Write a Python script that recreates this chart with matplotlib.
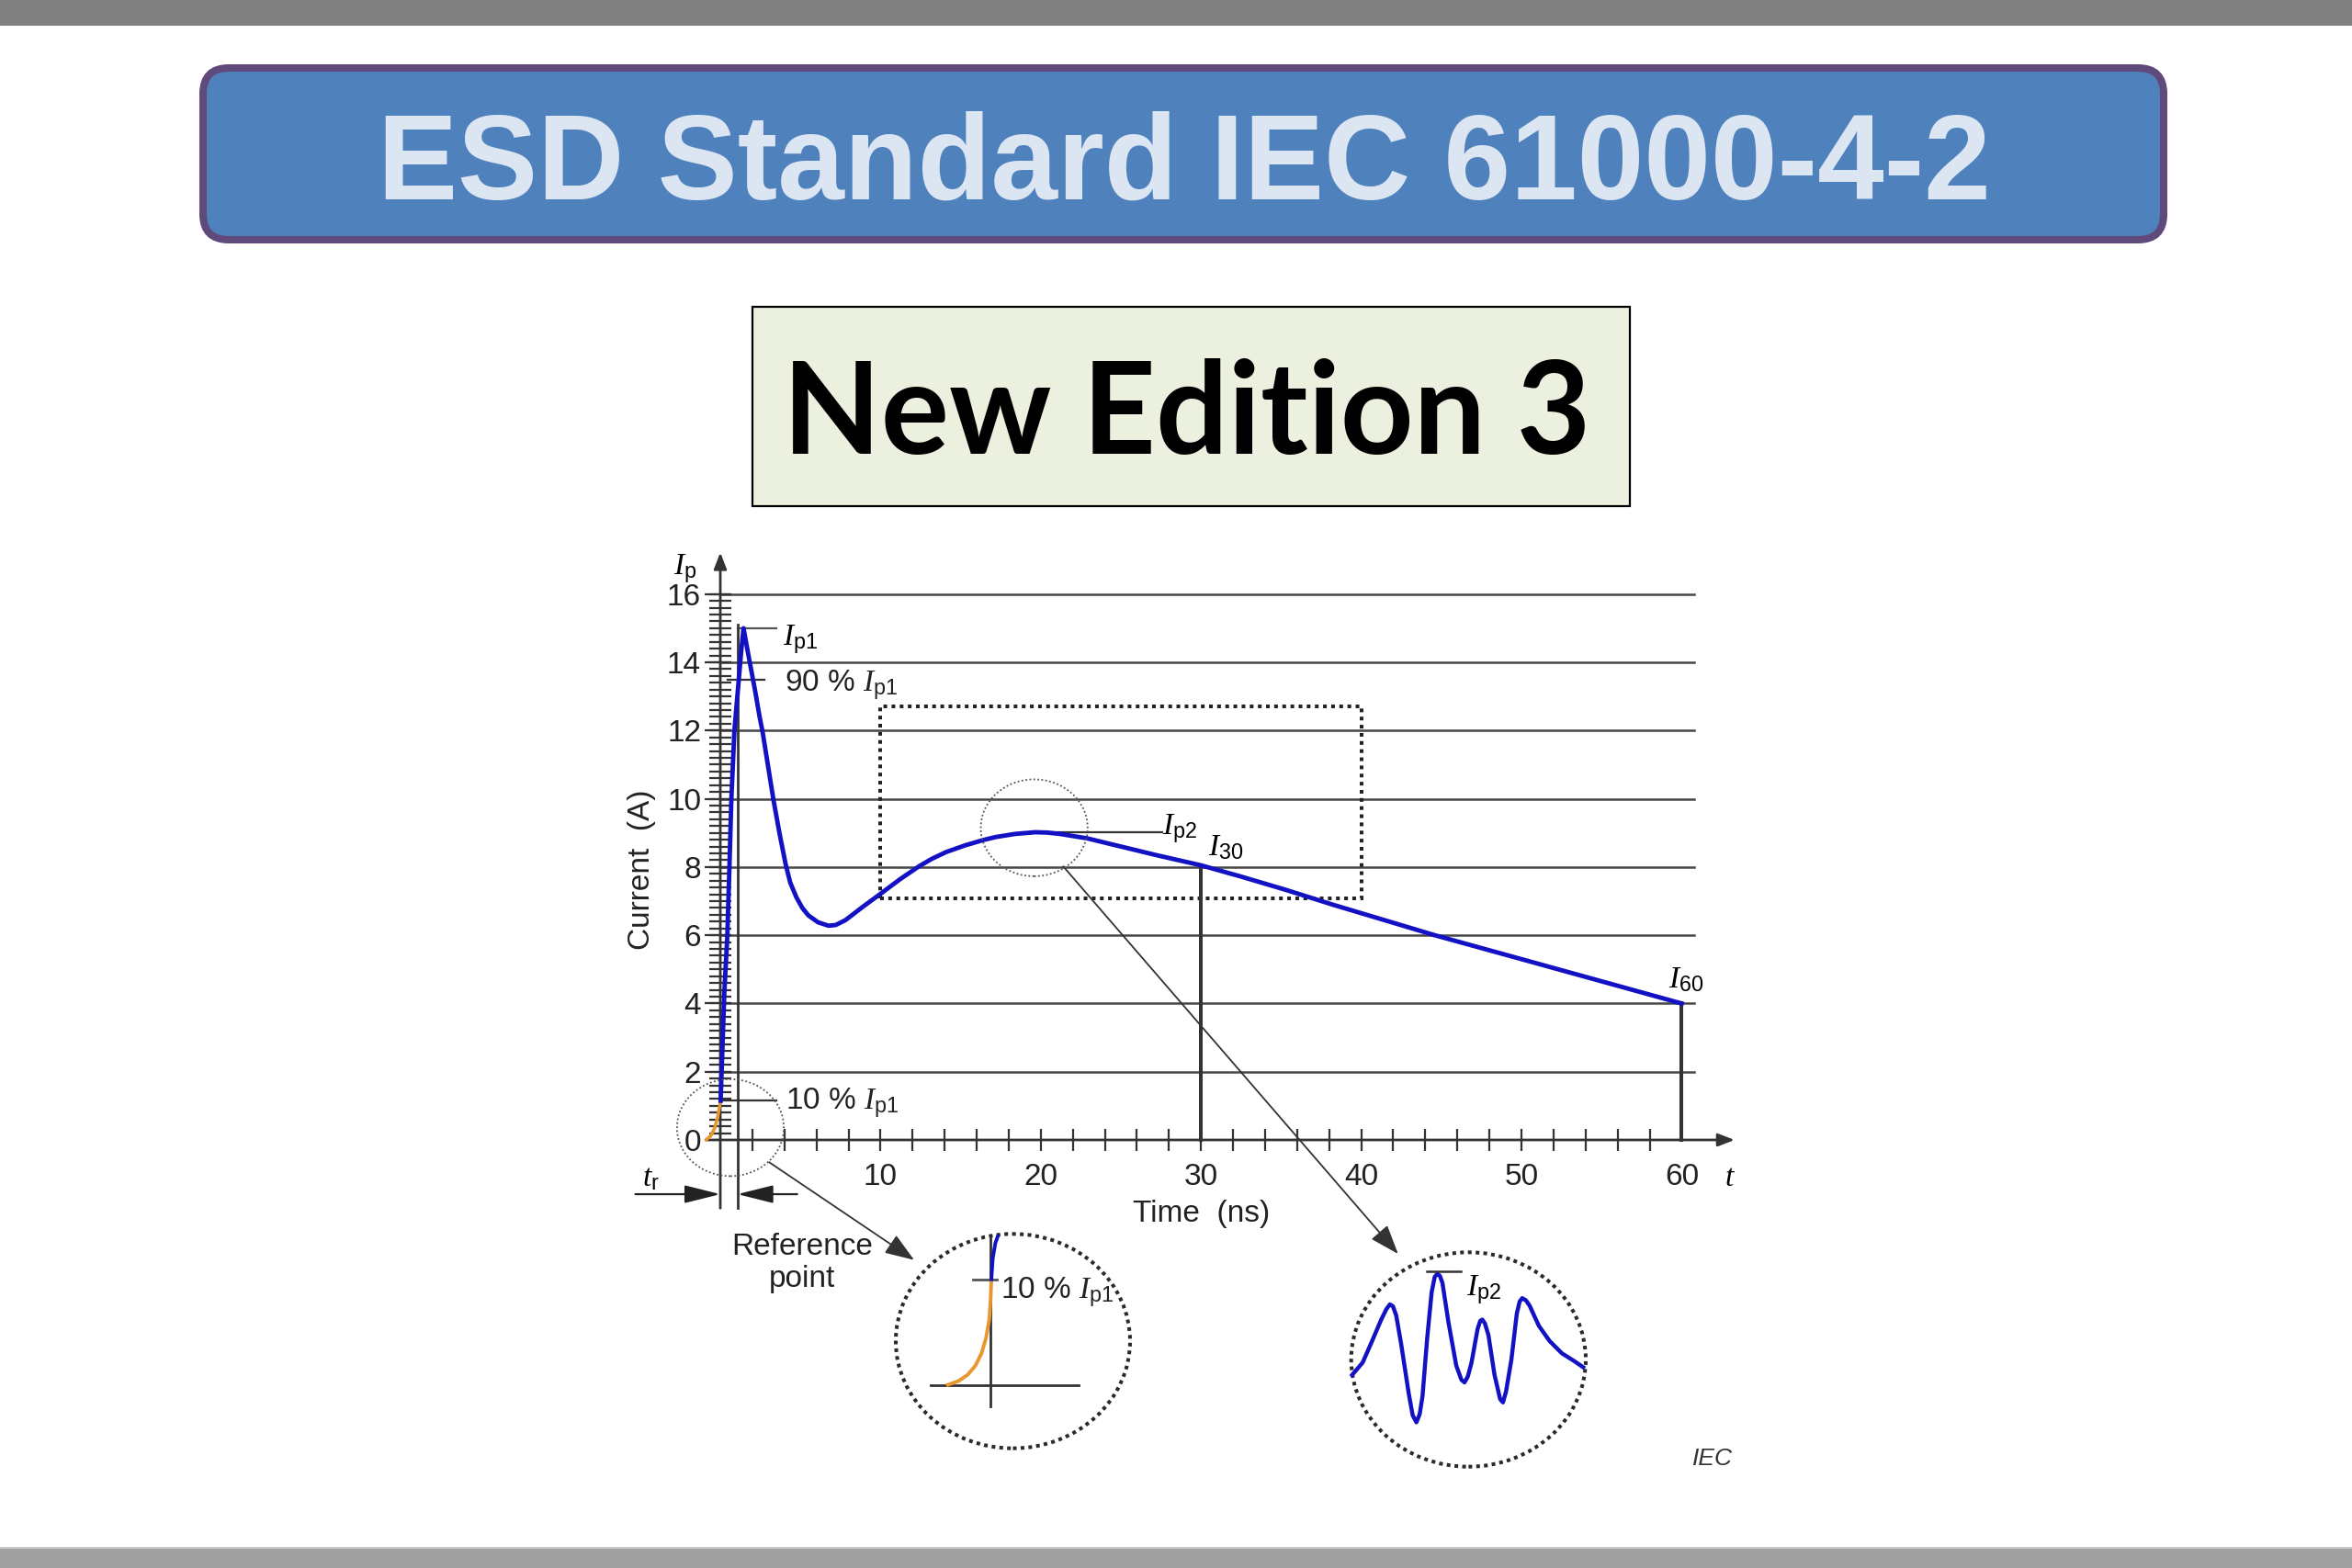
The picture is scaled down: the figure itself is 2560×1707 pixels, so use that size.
import numpy as np
import matplotlib.pyplot as plt
from matplotlib.patches import FancyBboxPatch, Rectangle, Ellipse

plt.rcParams['font.family'] = ['Liberation Sans', 'DejaVu Sans']
plt.rcParams['mathtext.fontset'] = 'custom'
plt.rcParams['mathtext.rm'] = 'Liberation Sans'
plt.rcParams['mathtext.it'] = 'Liberation Serif:italic'
plt.rcParams['mathtext.bf'] = 'Liberation Sans:bold'

# discharge current (ns, A)
t_ns = [0.02, 0.25, 0.44, 0.57, 0.69, 0.88, 1.10, 1.30, 1.45, 1.72, 2.16, 2.45,
        2.64, 3.31, 3.69, 4.07, 4.36, 4.74, 5.12, 5.50, 6.10, 6.75, 7.20, 7.80,
        8.94, 9.90, 11.24, 12.40, 13.20, 14.10, 15.25, 16.40, 17.20, 18.40, 19.65,
        20.40, 21.20, 22.90, 24.30, 25.80, 27.20, 28.60, 30.00, 32.50, 35.30, 38.20,
        41.40, 44.60, 50.00, 55.00, 60.00]
i_a = [1.15, 4.30, 6.00, 8.00, 10.00, 12.00, 13.20, 14.30, 15.00, 14.30, 13.20, 12.41,
       11.96, 9.99, 9.00, 8.10, 7.55, 7.12, 6.80, 6.58, 6.38, 6.28, 6.30, 6.44,
       6.85, 7.18, 7.65, 8.02, 8.24, 8.44, 8.63, 8.79, 8.88, 8.97, 9.02,
       9.01, 8.97, 8.84, 8.68, 8.51, 8.35, 8.20, 8.05, 7.72, 7.33, 6.90,
       6.45, 6.00, 5.30, 4.65, 4.00]
# foot of the rise, before the 10 % point (orange)
t_pre = [-0.90, -0.60, -0.35, -0.15, 0.02]
i_pre = [0.00, 0.12, 0.35, 0.70, 1.15]

ip1 = 15.0
ip1_90 = 13.5
ip1_10 = 1.15
ip2 = 9.02
t_ip2 = 19.65
i30 = 8.05
i60 = 4.0
t_r_end = 1.07

grid_levels = [2, 4, 6, 8, 10, 12, 14, 16]
y_labels = [0, 2, 4, 6, 8, 10, 12, 14, 16]
x_labels = [10, 20, 30, 40, 50, 60]
x_minor = list(range(2, 60, 2))

# zoom box around the second peak (ns, A)
box_t = [10, 40]
box_i = [7.07, 12.7]

# inset 1: rise detail, normalised inset units
rise_u_orange = [0.222, 0.268, 0.307, 0.340, 0.366, 0.385, 0.399, 0.405, 0.408]
rise_v_orange = [0.296, 0.314, 0.343, 0.386, 0.443, 0.514, 0.600, 0.700, 0.788]
rise_u_blue = [0.408, 0.414, 0.425, 0.435]
rise_v_blue = [0.788, 0.886, 0.957, 0.988]

# inset 2: ringing near Ip2, normalised inset units
ring_u = [0.004, 0.049, 0.089, 0.128, 0.150, 0.165, 0.178, 0.192, 0.213, 0.245, 0.262,
          0.278, 0.292, 0.304, 0.324, 0.343, 0.356, 0.367, 0.378, 0.389, 0.415, 0.448,
          0.470, 0.483, 0.497, 0.513, 0.539, 0.550, 0.559, 0.570, 0.585, 0.611, 0.635,
          0.647, 0.660, 0.683, 0.706, 0.718, 0.729, 0.745, 0.761, 0.800, 0.846, 0.898,
          0.950, 0.989]
ring_v = [0.428, 0.486, 0.586, 0.686, 0.735, 0.757, 0.748, 0.705, 0.572, 0.343, 0.240,
          0.207, 0.245, 0.329, 0.600, 0.814, 0.885, 0.900, 0.890, 0.857, 0.671, 0.471,
          0.405, 0.393, 0.420, 0.486, 0.643, 0.680, 0.686, 0.668, 0.614, 0.428, 0.315,
          0.300, 0.350, 0.500, 0.714, 0.770, 0.786, 0.776, 0.750, 0.657, 0.586, 0.529,
          0.493, 0.464]

BLUE = '#1212c4'
ORANGE = '#e8962e'
DARK = '#333333'
W, H = 2560, 1707

fig = plt.figure(figsize=(W / 100, H / 100), dpi=100)
fig.patch.set_facecolor('white')

# page furniture in pixel coordinates
ov = fig.add_axes([0, 0, 1, 1])
ov.set_xlim(0, W)
ov.set_ylim(H, 0)
ov.axis('off')
ov.add_patch(Rectangle((0, 0), W, 28, color='#808080', lw=0))
ov.add_patch(Rectangle((0, 1685), W, 22, color='#a0a0a0', lw=0))
ov.add_patch(Rectangle((0, 1684), W, 1.5, color='#c8c8c8', lw=0))
ov.add_patch(FancyBboxPatch((221, 74), 2134, 187,
                            boxstyle='round,pad=0,rounding_size=28',
                            facecolor='#4f81bd', edgecolor='#604a7b', lw=5.8))
ov.text(1289, 217, 'ESD Standard IEC 61000-4-2', ha='center', va='baseline',
        fontsize=94, fontweight='bold', color='#dce6f2')
ov.add_patch(Rectangle((819, 334), 955, 217, facecolor='#ebf1de',
                       edgecolor='black', lw=1.6))
ov.text(1292, 494, 'New Edition 3', ha='center', va='baseline',
        fontsize=100, fontweight='bold', color='black',
        family=['Lato', 'Liberation Sans', 'DejaVu Sans'])

# main waveform axes: 0 ns at x=784 px, 17.44 px/ns; 0 A at y=1241 px, 37.14 px/A
X0, SX, Y0, SY = 784, 17.44, 1241, 37.14
xlim = (-8, 66)
ylim = (-10.5, 18.5)
left = X0 + xlim[0] * SX
right = X0 + xlim[1] * SX
top = Y0 - ylim[1] * SY
bottom = Y0 - ylim[0] * SY
ax = fig.add_axes([left / W, 1 - bottom / H, (right - left) / W, (bottom - top) / H])
ax.set_xlim(*xlim)
ax.set_ylim(*ylim)
ax.axis('off')
ax.patch.set_alpha(0)

for g in grid_levels:
    ax.plot([0, 60.8], [g, g], color='#474747', lw=1.8, zorder=1)

# y-axis minor ticks
yt = np.arange(0.2, 16.01, 0.2)
ax.hlines(yt, -0.7, 0.7, color=DARK, lw=1.6, zorder=2)
ax.hlines(y_labels[1:], -1.0, 0.7, color=DARK, lw=1.6, zorder=2)
# x-axis ticks
ax.vlines(x_minor, -0.33, 0.33, color=DARK, lw=1.6, zorder=2)

# axes with arrows
ax.annotate('', xy=(0, 17.22), xytext=(0, -2.0),
            arrowprops=dict(arrowstyle='-|>,head_length=0.9,head_width=0.35',
                            mutation_scale=12, lw=2.0, color=DARK,
                            shrinkA=0, shrinkB=0), zorder=3)
ax.annotate('', xy=(63.3, 0), xytext=(-0.9, 0),
            arrowprops=dict(arrowstyle='-|>,head_length=0.9,head_width=0.35',
                            mutation_scale=12, lw=2.0, color=DARK,
                            shrinkA=0, shrinkB=0), zorder=3)
ax.plot([t_r_end, t_r_end], [-2.0, 15.1], color=DARK, lw=2.0, zorder=3)

# tr arrows
ax.annotate('', xy=(0, -1.59), xytext=(-5.3, -1.59),
            arrowprops=dict(arrowstyle='-|>,head_length=1.2,head_width=0.3',
                            mutation_scale=20, lw=1.6, color='#222222',
                            shrinkA=0, shrinkB=0))
ax.annotate('', xy=(t_r_end, -1.59), xytext=(4.8, -1.59),
            arrowprops=dict(arrowstyle='-|>,head_length=1.2,head_width=0.3',
                            mutation_scale=20, lw=1.6, color='#222222',
                            shrinkA=0, shrinkB=0))

# I30 / I60 verticals
ax.plot([30, 30], [0, i30], color=DARK, lw=2.9, zorder=3)
ax.plot([60, 60], [0, i60], color=DARK, lw=2.9, zorder=3)

# dotted zoom box
ax.add_patch(Rectangle((box_t[0], box_i[0]), box_t[1] - box_t[0], box_i[1] - box_i[0],
                       fill=False, edgecolor='#222222', lw=2.9,
                       linestyle=(0, (1, 1.2)), zorder=2))

# leader lines
ax.plot([1.1, 3.5], [ip1, ip1], color='#555555', lw=1.6, zorder=2)
ax.plot([0.44, 2.73], [ip1_90, ip1_90], color=DARK, lw=1.6, zorder=2)
ax.plot([0.1, 3.5], [ip1_10, ip1_10], color=DARK, lw=1.6, zorder=2)
ax.plot([t_ip2, 27.6], [ip2, ip2], color=DARK, lw=1.6, zorder=2)

# waveform
ax.plot(t_pre, i_pre, color=ORANGE, lw=2.6, zorder=4, solid_capstyle='round')
ax.plot(t_ns, i_a, color=BLUE, lw=3.5, zorder=5, solid_joinstyle='round')

# small dotted circles
for (cx, cy) in [(0.63, 0.36), (19.59, 9.15)]:
    ax.add_patch(Ellipse((cx, cy), 6.67, 2.84, fill=False, edgecolor='#555555',
                         lw=1.3, linestyle=(0, (1, 1.4)), zorder=6))

# arrows to the insets
ax.annotate('', xy=(12.1, -3.52), xytext=(3.04, -0.65),
            arrowprops=dict(arrowstyle='-|>,head_length=1.1,head_width=0.4',
                            mutation_scale=18, lw=1.3, color=DARK,
                            shrinkA=0, shrinkB=0))
ax.annotate('', xy=(42.3, -3.34), xytext=(21.4, 8.02),
            arrowprops=dict(arrowstyle='-|>,head_length=1.1,head_width=0.4',
                            mutation_scale=18, lw=1.3, color=DARK,
                            shrinkA=0, shrinkB=0))

# text
FS = 24
TXT = '#222222'
for v in y_labels:
    ax.text(-1.2, v, str(v), ha='right', va='center_baseline', fontsize=FS, color=TXT)
for v in x_labels:
    ax.text(v, -1.32, str(v), ha='center', va='baseline', fontsize=FS, color=TXT)
ax.text(-4.9, 7.92, 'Current  (A)', rotation=90, ha='center', va='center',
        fontsize=FS, color=TXT)
ax.text(30.05, -2.4, 'Time  (ns)', ha='center', va='baseline', fontsize=FS, color=TXT)
ax.text(-2.9, 16.58, r'$I_{\mathrm{p}}$', ha='left', va='baseline', fontsize=FS)
ax.text(62.7, -1.35, r'$t$', ha='left', va='baseline', fontsize=FS)
ax.text(-4.87, -1.36, r'$t_{\mathrm{r}}$', ha='left', va='baseline', fontsize=FS)
ax.text(3.88, 14.52, r'$I_{\mathrm{p1}}$', ha='left', va='baseline', fontsize=FS)
ax.text(4.03, 13.17, r'90 % $I_{\mathrm{p1}}$', ha='left', va='baseline', fontsize=FS,
        color=TXT)
ax.text(4.08, 0.92, r'10 % $I_{\mathrm{p1}}$', ha='left', va='baseline', fontsize=FS,
        color=TXT)
ax.text(27.58, 8.96, r'$I_{\mathrm{p2}}$', ha='left', va='baseline', fontsize=FS)
ax.text(30.45, 8.33, r'$I_{30}$', ha='left', va='baseline', fontsize=FS)
ax.text(59.2, 4.47, r'$I_{60}$', ha='left', va='baseline', fontsize=FS)
ax.text(5.1, -3.61, 'Reference\npoint', ha='center', va='center', fontsize=FS,
        linespacing=1.2, color=TXT)
ax.text(63.2, -9.53, 'IEC', ha='right', va='baseline', fontsize=19,
        style='italic', color='#333333')


def inset(x, y, w, h):
    a = fig.add_axes([x / W, 1 - (y + h) / H, w / W, h / H])
    a.set_xlim(0, 1)
    a.set_ylim(0, 1)
    a.axis('off')
    a.patch.set_alpha(0)
    a.add_patch(Ellipse((0.5, 0.5), 1, 1, fill=False, edgecolor='#2a2a2a', lw=2.9,
                        linestyle=(0, (1, 1.1)), clip_on=False))
    return a


# inset 1: reference point
a1 = inset(975, 1343.3, 255, 233.4)
a1.plot([0.148, 0.782], [0.296, 0.296], color=DARK, lw=2.0, clip_on=False)
a1.plot([0.405, 0.405], [0.197, 0.979], color=DARK, lw=2.0, clip_on=False)
a1.plot([0.330, 0.431], [0.789, 0.789], color='#555555', lw=2.0, clip_on=False)
a1.plot(rise_u_orange, rise_v_orange, color=ORANGE, lw=2.8, clip_on=False, zorder=4)
a1.plot(rise_u_blue, rise_v_blue, color=BLUE, lw=2.8, clip_on=False, zorder=4)
a1.text(0.448, 0.700, r'10 % $I_{\mathrm{p1}}$', ha='left', va='baseline', fontsize=FS,
        color=TXT)

# inset 2: ringing around Ip2
a2 = inset(1470.7, 1363.3, 255.3, 233.4)
a2.plot(ring_u, ring_v, color=BLUE, lw=3.2, clip_on=False, solid_joinstyle='round')
a2.plot([0.324, 0.467], [0.910, 0.910], color=DARK, lw=1.8, clip_on=False)
a2.text(0.49, 0.80, r'$I_{\mathrm{p2}}$', ha='left', va='baseline', fontsize=FS)

fig.savefig('out.png', dpi=100)
